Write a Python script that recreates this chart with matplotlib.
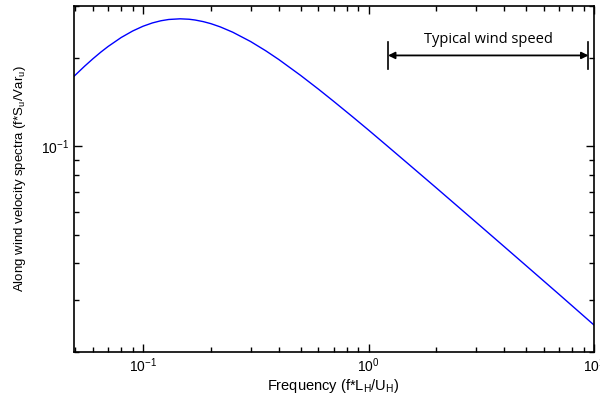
import numpy as np
import matplotlib
matplotlib.use("Agg")
import matplotlib.pyplot as plt
from matplotlib.ticker import NullFormatter

plt.rcParams['font.family'] = ['Liberation Sans', 'DejaVu Sans']
plt.rcParams['mathtext.fontset'] = 'custom'
plt.rcParams['mathtext.rm'] = 'Liberation Sans'
plt.rcParams['mathtext.it'] = 'Liberation Sans'

# values
freq = [0.0494, 0.055, 0.06, 0.065, 0.07, 0.08, 0.09, 0.1, 0.11, 0.12, 0.13,
        0.146, 0.16, 0.17, 0.185, 0.2, 0.22, 0.25, 0.3, 0.35, 0.4, 0.5, 0.6,
        0.7, 0.85, 1.0, 1.2, 1.5, 2.0, 3.0, 4.0, 5.0, 7.0, 10.0]
spec = [0.173, 0.1871, 0.1986, 0.2091, 0.2185, 0.2344, 0.2467, 0.256, 0.2627,
        0.2672, 0.2699, 0.2713, 0.2704, 0.2688, 0.2654, 0.2612, 0.2547, 0.2443,
        0.2271, 0.2113, 0.1973, 0.1742, 0.1564, 0.1423, 0.126, 0.1136, 0.1009,
        0.0872, 0.0722, 0.0552, 0.0456, 0.0393, 0.0314, 0.0247]

# range of typical wind speed (annotation)
wind_lo = 1.22
wind_hi = 9.45
wind_y = 0.2037

fig = plt.figure(figsize=(6, 3.98), dpi=100)
ax = fig.add_axes([0.1233, 0.1156, 0.8667, 0.8694])

ax.plot(freq, spec, color='#0000ff', lw=1.0)
ax.set_xscale('log')
ax.set_yscale('log')
ax.set_xlim(0.0494, 10)
ax.set_ylim(0.02, 0.3)

ax.yaxis.set_minor_formatter(NullFormatter())
ax.xaxis.set_minor_formatter(NullFormatter())
ax.tick_params(which='both', direction='in', top=True, right=True,
               labelsize=10, width=1)
ax.tick_params(which='major', length=6)
ax.tick_params(which='minor', length=3.5)
for s in ax.spines.values():
    s.set_linewidth(1.2)

fig.text(0.555, 8 / 398, r"Frequency (f*L$_\mathregular{H}$/U$_\mathregular{H}$)",
         fontsize=10.5, ha='center', va='baseline')
fig.text(20 / 600, 1 - 179 / 398,
         r"Along wind velocity spectra (f*S$_\mathregular{u}$/Var$_\mathregular{u}$)",
         fontsize=9.5, rotation=90, ha='center', va='center')

# annotation arrow
ax.annotate('', xy=(wind_lo, wind_y), xytext=(wind_hi, wind_y),
            arrowprops=dict(arrowstyle='<|-|>', color='black', lw=1.3,
                            mutation_scale=10, shrinkA=0, shrinkB=0))
for xv in (wind_lo, wind_hi):
    ax.plot([xv, xv], [wind_y * 0.896, wind_y * 1.107], color='black', lw=1.2)
ax.text(np.sqrt(wind_lo * wind_hi), wind_y * 1.10, 'Typical wind speed',
        ha='center', va='baseline', fontsize=10.5, family=['Open Sans', 'DejaVu Sans'])

fig.savefig('out.png', dpi=100)
